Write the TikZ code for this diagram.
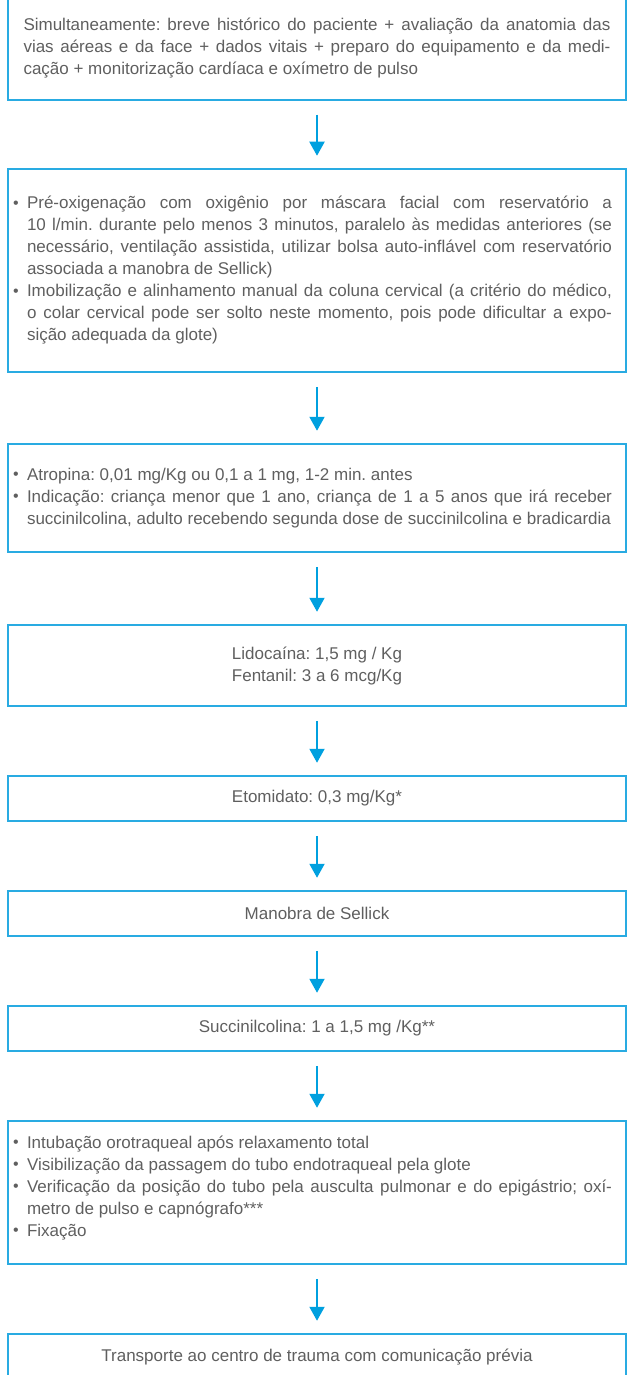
\documentclass[tikz,border=0pt]{standalone}
\usepackage{fontspec}
\setmainfont{Liberation Sans}
\usetikzlibrary{arrows.meta}
\frenchspacing
\definecolor{boxblue}{HTML}{29ABE2}
\definecolor{arrblue}{HTML}{00A0DF}
\definecolor{txtgray}{HTML}{5F5F5F}
\newcommand\JL[1]{\makebox[\linewidth][s]{#1}}
\newcommand\JB[1]{\makebox[585pt][s]{#1}}
\newcommand\itm{\par\hangindent=14pt\hangafter=1\noindent\makebox[14pt][l]{\raisebox{0.5pt}{\fontsize{16}{16}\selectfont\textbullet}}}
\tikzset{
  flowbox/.style={draw=boxblue, line width=1.5pt, minimum width=618pt, inner sep=0pt,
    text=txtgray, font=\fontsize{17}{22}\selectfont\frenchspacing},
  arr/.style={draw=arrblue, line width=2pt, -{Triangle[width=15pt,length=14pt]}}
}
\begin{document}
\begin{tikzpicture}[x=1pt,y=-1pt]
\useasboundingbox (0,0) rectangle (627,1375);
\node[flowbox, minimum height=103pt] (b1) at (317,48.5) {\parbox{587pt}{%
\JL{Simultaneamente: breve histórico do paciente + avaliação da anatomia das}\\
\JL{vias aéreas e da face + dados vitais + preparo do equipamento e da medi-}\\
cação + monitorização cardíaca e oxímetro de pulso}};
\node[flowbox, minimum height=203pt] (b2) at (317,270.5) {\parbox{599pt}{%
\itm\JB{Pré-oxigenação com oxigênio por máscara facial com reservatório a}\\
\JB{10 l/min. durante pelo menos 3 minutos, paralelo às medidas anteriores (se}\\
\JB{necessário, ventilação assistida, utilizar bolsa auto-inflável com reservatório}\\
associada a manobra de Sellick)
\itm\JB{Imobilização e alinhamento manual da coluna cervical (a critério do médico,}\\
\JB{o colar cervical pode ser solto neste momento, pois pode dificultar a expo-}\\
sição adequada da glote)}\hspace*{9pt}};
\node[flowbox, minimum height=108pt] (b3) at (317,498) {\parbox{599pt}{%
\itm Atropina: 0,01 mg/Kg ou 0,1 a 1 mg, 1-2 min. antes
\itm\JB{Indicação: criança menor que 1 ano, criança de 1 a 5 anos que irá receber}\\
succinilcolina, adulto recebendo segunda dose de succinilcolina e bradicardia}\hspace*{9pt}};
\node[flowbox, minimum height=81pt, align=center] (b4) at (317,665.5) {Lidocaína: 1,5 mg / Kg\\Fentanil: 3 a 6 mcg/Kg};
\node[flowbox, minimum height=45pt] (b5) at (317,798.5) {Etomidato: 0,3 mg/Kg*};
\node[flowbox, minimum height=45pt] (b6) at (317,913.5) {Manobra de Sellick};
\node[flowbox, minimum height=45pt] (b7) at (317,1028.5) {Succinilcolina: 1 a 1,5 mg /Kg**};
\node[flowbox, minimum height=143pt] (b8) at (317,1192.5) {\parbox{599pt}{%
\itm Intubação orotraqueal após relaxamento total
\itm Visibilização da passagem do tubo endotraqueal pela glote
\itm\JB{Verificação da posição do tubo pela ausculta pulmonar e do epigástrio; oxí-}\\
metro de pulso e capnógrafo***
\itm Fixação\par\vspace*{9pt}}\hspace*{9pt}};
\node[flowbox, minimum height=46pt] (b9) at (317,1357) {Transporte ao centro de trauma com comunicação prévia};
\foreach \a/\b in {b1/b2,b2/b3,b3/b4,b4/b5,b5/b6,b6/b7,b7/b8,b8/b9}
  \draw[arr] ([yshift=-14pt]\a.south) -- ([yshift=12.5pt]\b.north);
\end{tikzpicture}
\end{document}
